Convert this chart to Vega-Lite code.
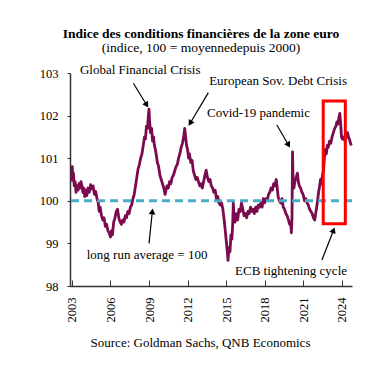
{
  "$schema": "https://vega.github.io/schema/vega-lite/v6.json",
  "width": 282,
  "height": 213,
  "autosize": {"type": "none"},
  "padding": {"left": 70, "top": 73, "right": 34, "bottom": 91},
  "background": "white",
  "config": {"view": {"stroke": null}, "font": "Liberation Serif"},
  "title": {
    "text": "Indice des conditions financières de la zone euro",
    "subtitle": "(indice, 100 = moyennedepuis 2000)",
    "font": "Liberation Serif",
    "fontSize": 13.5,
    "fontWeight": "bold",
    "subtitleFont": "Liberation Serif",
    "subtitleFontSize": 13.5,
    "color": "black",
    "subtitleColor": "black",
    "anchor": "middle",
    "dx": -10,
    "offset": 10,
    "subtitlePadding": 0
  },
  "datasets": {
    "fci": [
      {"year": 2003.00, "value": 100.45}, {"year": 2003.03, "value": 100.8}, {"year": 2003.07, "value": 100.5},
      {"year": 2003.12, "value": 100.65}, {"year": 2003.18, "value": 100.35}, {"year": 2003.25, "value": 100.45},
      {"year": 2003.32, "value": 100.2}, {"year": 2003.40, "value": 100.35}, {"year": 2003.48, "value": 100.25},
      {"year": 2003.55, "value": 100.4}, {"year": 2003.62, "value": 100.3}, {"year": 2003.70, "value": 100.45},
      {"year": 2003.78, "value": 100.35}, {"year": 2003.85, "value": 100.2}, {"year": 2003.92, "value": 100.3},
      {"year": 2004.00, "value": 100.1}, {"year": 2004.07, "value": 100.25}, {"year": 2004.15, "value": 100.12},
      {"year": 2004.25, "value": 100.3}, {"year": 2004.35, "value": 100.2}, {"year": 2004.45, "value": 100.38},
      {"year": 2004.55, "value": 100.28}, {"year": 2004.65, "value": 100.35}, {"year": 2004.75, "value": 100.15},
      {"year": 2004.85, "value": 100.22}, {"year": 2004.95, "value": 100.05}, {"year": 2005.05, "value": 99.95},
      {"year": 2005.12, "value": 99.75}, {"year": 2005.20, "value": 99.85}, {"year": 2005.30, "value": 99.65},
      {"year": 2005.40, "value": 99.55}, {"year": 2005.50, "value": 99.6}, {"year": 2005.60, "value": 99.4},
      {"year": 2005.70, "value": 99.45}, {"year": 2005.80, "value": 99.3}, {"year": 2005.90, "value": 99.25},
      {"year": 2006.00, "value": 99.15}, {"year": 2006.08, "value": 99.3}, {"year": 2006.15, "value": 99.2},
      {"year": 2006.25, "value": 99.5}, {"year": 2006.35, "value": 99.6}, {"year": 2006.45, "value": 99.75},
      {"year": 2006.55, "value": 99.8}, {"year": 2006.65, "value": 99.6}, {"year": 2006.75, "value": 99.5},
      {"year": 2006.85, "value": 99.45}, {"year": 2006.95, "value": 99.55}, {"year": 2007.05, "value": 99.5},
      {"year": 2007.15, "value": 99.65}, {"year": 2007.25, "value": 99.6}, {"year": 2007.35, "value": 99.75},
      {"year": 2007.45, "value": 99.7}, {"year": 2007.55, "value": 99.85}, {"year": 2007.65, "value": 99.9},
      {"year": 2007.75, "value": 100.05}, {"year": 2007.85, "value": 100.15}, {"year": 2007.95, "value": 100.35},
      {"year": 2008.05, "value": 100.55}, {"year": 2008.15, "value": 100.75}, {"year": 2008.25, "value": 100.85},
      {"year": 2008.35, "value": 101.0}, {"year": 2008.45, "value": 101.1}, {"year": 2008.55, "value": 101.3},
      {"year": 2008.65, "value": 101.5}, {"year": 2008.72, "value": 101.45}, {"year": 2008.80, "value": 101.75},
      {"year": 2008.88, "value": 101.7}, {"year": 2008.95, "value": 102.0}, {"year": 2009.00, "value": 102.15},
      {"year": 2009.05, "value": 101.85}, {"year": 2009.12, "value": 101.6}, {"year": 2009.20, "value": 101.7},
      {"year": 2009.28, "value": 101.4}, {"year": 2009.35, "value": 101.5}, {"year": 2009.42, "value": 101.3},
      {"year": 2009.50, "value": 101.2}, {"year": 2009.58, "value": 101.05}, {"year": 2009.65, "value": 100.9},
      {"year": 2009.75, "value": 100.8}, {"year": 2009.85, "value": 100.6}, {"year": 2009.95, "value": 100.5},
      {"year": 2010.05, "value": 100.4}, {"year": 2010.15, "value": 100.3}, {"year": 2010.25, "value": 100.15},
      {"year": 2010.32, "value": 100.25}, {"year": 2010.40, "value": 100.35}, {"year": 2010.50, "value": 100.3},
      {"year": 2010.60, "value": 100.45}, {"year": 2010.70, "value": 100.4}, {"year": 2010.80, "value": 100.55},
      {"year": 2010.90, "value": 100.6}, {"year": 2011.00, "value": 100.7}, {"year": 2011.10, "value": 100.8},
      {"year": 2011.20, "value": 100.85}, {"year": 2011.30, "value": 101.0}, {"year": 2011.40, "value": 101.1},
      {"year": 2011.50, "value": 101.25}, {"year": 2011.60, "value": 101.35}, {"year": 2011.70, "value": 101.5},
      {"year": 2011.78, "value": 101.7}, {"year": 2011.85, "value": 101.5}, {"year": 2011.92, "value": 101.3},
      {"year": 2012.00, "value": 101.2}, {"year": 2012.08, "value": 101.0}, {"year": 2012.15, "value": 101.1},
      {"year": 2012.25, "value": 100.9}, {"year": 2012.35, "value": 100.95}, {"year": 2012.45, "value": 100.7},
      {"year": 2012.55, "value": 100.6}, {"year": 2012.65, "value": 100.5}, {"year": 2012.75, "value": 100.55},
      {"year": 2012.85, "value": 100.45}, {"year": 2012.95, "value": 100.35}, {"year": 2013.05, "value": 100.4},
      {"year": 2013.15, "value": 100.3}, {"year": 2013.25, "value": 100.45}, {"year": 2013.35, "value": 100.6},
      {"year": 2013.45, "value": 100.72}, {"year": 2013.55, "value": 100.55}, {"year": 2013.65, "value": 100.45},
      {"year": 2013.75, "value": 100.5}, {"year": 2013.85, "value": 100.35}, {"year": 2013.95, "value": 100.3},
      {"year": 2014.05, "value": 100.2}, {"year": 2014.15, "value": 100.25}, {"year": 2014.25, "value": 100.05},
      {"year": 2014.35, "value": 100.1}, {"year": 2014.45, "value": 99.95}, {"year": 2014.55, "value": 99.9},
      {"year": 2014.65, "value": 99.95}, {"year": 2014.75, "value": 99.8}, {"year": 2014.85, "value": 99.55},
      {"year": 2014.92, "value": 99.35}, {"year": 2015.00, "value": 99.1}, {"year": 2015.08, "value": 98.85},
      {"year": 2015.15, "value": 98.6}, {"year": 2015.22, "value": 98.9}, {"year": 2015.30, "value": 98.8},
      {"year": 2015.38, "value": 99.2}, {"year": 2015.45, "value": 99.1}, {"year": 2015.52, "value": 99.5},
      {"year": 2015.56, "value": 99.95}, {"year": 2015.62, "value": 99.6}, {"year": 2015.70, "value": 99.5},
      {"year": 2015.80, "value": 99.7}, {"year": 2015.90, "value": 99.55}, {"year": 2016.00, "value": 99.8},
      {"year": 2016.10, "value": 99.75}, {"year": 2016.20, "value": 99.95}, {"year": 2016.30, "value": 99.8},
      {"year": 2016.40, "value": 99.65}, {"year": 2016.50, "value": 99.7}, {"year": 2016.60, "value": 99.6},
      {"year": 2016.70, "value": 99.75}, {"year": 2016.80, "value": 99.7}, {"year": 2016.90, "value": 99.85},
      {"year": 2017.00, "value": 99.75}, {"year": 2017.10, "value": 99.8}, {"year": 2017.20, "value": 99.7},
      {"year": 2017.30, "value": 99.85}, {"year": 2017.40, "value": 99.75}, {"year": 2017.50, "value": 99.9},
      {"year": 2017.60, "value": 99.85}, {"year": 2017.70, "value": 99.95}, {"year": 2017.80, "value": 99.85},
      {"year": 2017.90, "value": 100.05}, {"year": 2018.00, "value": 99.95}, {"year": 2018.10, "value": 100.05},
      {"year": 2018.20, "value": 100.0}, {"year": 2018.30, "value": 100.15}, {"year": 2018.40, "value": 100.2},
      {"year": 2018.50, "value": 100.3}, {"year": 2018.60, "value": 100.25}, {"year": 2018.70, "value": 100.4},
      {"year": 2018.80, "value": 100.35}, {"year": 2018.90, "value": 100.5}, {"year": 2018.98, "value": 100.3},
      {"year": 2019.05, "value": 100.1}, {"year": 2019.15, "value": 100.0}, {"year": 2019.25, "value": 99.95},
      {"year": 2019.35, "value": 100.05}, {"year": 2019.45, "value": 99.85}, {"year": 2019.55, "value": 99.8},
      {"year": 2019.65, "value": 99.7}, {"year": 2019.75, "value": 99.65}, {"year": 2019.85, "value": 99.55},
      {"year": 2019.95, "value": 99.45}, {"year": 2020.02, "value": 99.5}, {"year": 2020.08, "value": 99.25},
      {"year": 2020.13, "value": 99.6}, {"year": 2020.17, "value": 101.15}, {"year": 2020.21, "value": 100.5},
      {"year": 2020.28, "value": 100.3}, {"year": 2020.35, "value": 100.45}, {"year": 2020.45, "value": 100.55},
      {"year": 2020.55, "value": 100.65}, {"year": 2020.62, "value": 100.45}, {"year": 2020.70, "value": 100.35},
      {"year": 2020.80, "value": 100.3}, {"year": 2020.90, "value": 100.2}, {"year": 2021.00, "value": 100.15},
      {"year": 2021.10, "value": 100.0}, {"year": 2021.20, "value": 100.05}, {"year": 2021.30, "value": 99.95},
      {"year": 2021.40, "value": 99.9}, {"year": 2021.50, "value": 99.8}, {"year": 2021.60, "value": 99.75},
      {"year": 2021.70, "value": 99.7}, {"year": 2021.80, "value": 99.6}, {"year": 2021.90, "value": 99.55},
      {"year": 2021.97, "value": 99.7}, {"year": 2022.05, "value": 99.85}, {"year": 2022.12, "value": 100.0},
      {"year": 2022.20, "value": 100.2}, {"year": 2022.28, "value": 100.35}, {"year": 2022.35, "value": 100.5},
      {"year": 2022.42, "value": 100.4}, {"year": 2022.50, "value": 100.6}, {"year": 2022.58, "value": 100.7},
      {"year": 2022.65, "value": 101.0}, {"year": 2022.72, "value": 101.2}, {"year": 2022.80, "value": 101.1},
      {"year": 2022.88, "value": 101.3}, {"year": 2022.95, "value": 101.25}, {"year": 2023.05, "value": 101.4},
      {"year": 2023.15, "value": 101.35}, {"year": 2023.25, "value": 101.5}, {"year": 2023.35, "value": 101.6},
      {"year": 2023.45, "value": 101.7}, {"year": 2023.55, "value": 101.75}, {"year": 2023.62, "value": 101.85},
      {"year": 2023.70, "value": 101.8}, {"year": 2023.78, "value": 101.95}, {"year": 2023.85, "value": 102.05},
      {"year": 2023.92, "value": 101.8}, {"year": 2023.98, "value": 101.5}, {"year": 2024.05, "value": 101.45},
      {"year": 2024.15, "value": 101.5}, {"year": 2024.25, "value": 101.4}, {"year": 2024.35, "value": 101.5},
      {"year": 2024.45, "value": 101.6}, {"year": 2024.52, "value": 101.5}, {"year": 2024.60, "value": 101.45},
      {"year": 2024.68, "value": 101.35}, {"year": 2024.75, "value": 101.3}
    ],
    "notes": [
      {"label": "Global Financial Crisis", "x": 2003.62, "y": 103.07},
      {"label": "European Sov. Debt Crisis", "x": 2013.68, "y": 102.81},
      {"label": "Covid-19 pandemic", "x": 2013.52, "y": 102.07},
      {"label": "long run average  = 100", "x": 2004.15, "y": 98.73},
      {"label": "ECB tightening cycle", "x": 2015.7, "y": 98.35}
    ],
    "arrows": [
      {"id": "gfc", "x": 2007.78, "y": 102.76, "x2": 2008.82, "y2": 102.25},
      {"id": "esdc", "x": 2013.62, "y": 102.54, "x2": 2012.2, "y2": 101.82},
      {"id": "covid", "x": 2018.95, "y": 101.78, "x2": 2019.86, "y2": 101.31},
      {"id": "lra", "x": 2009.0, "y": 99.0, "x2": 2009.26, "y2": 99.75},
      {"id": "ecb", "x": 2022.46, "y": 98.61, "x2": 2023.36, "y2": 99.31}
    ],
    "box": [
      {"x": 2022.56, "x2": 2024.28, "y": 102.34, "y2": 99.46}
    ],
    "avg": [
      {"level": 100}
    ]
  },
  "encoding": {
    "x": {
      "type": "quantitative",
      "scale": {"domain": [2002.85, 2024.8], "nice": false, "zero": false}
    },
    "y": {
      "type": "quantitative",
      "scale": {"domain": [98, 103], "nice": false, "zero": false}
    }
  },
  "layer": [
    {
      "data": {"name": "fci"},
      "mark": {"type": "line", "color": "#7B0A4E", "strokeWidth": 2.8, "strokeJoin": "round"},
      "encoding": {
        "x": {
          "field": "year",
          "type": "quantitative",
          "scale": {"domain": [2002.85, 2024.8], "nice": false, "zero": false},
          "axis": {
            "values": [2003, 2006, 2009, 2012, 2015, 2018, 2021, 2024],
            "format": "d",
            "grid": false,
            "labelAngle": -90,
            "labelAlign": "right",
            "labelBaseline": "middle",
            "labelFont": "Liberation Serif",
            "labelFontSize": 12.5,
            "labelColor": "black",
            "tickSize": -6,
            "labelPadding": 17,
            "tickColor": "#333",
            "domainColor": "#333",
            "domainWidth": 1.5,
            "tickWidth": 1,
            "title": "Source: Goldman Sachs, QNB Economics",
            "titleFont": "Liberation Serif",
            "titleFontSize": 13,
            "titleFontWeight": "normal",
            "titleColor": "black",
            "titleX": 130,
            "titleY": 60,
            "titleBaseline": "alphabetic",
            "titleAlign": "center"
          }
        },
        "y": {
          "field": "value",
          "type": "quantitative",
          "scale": {"domain": [98, 103], "nice": false, "zero": false},
          "axis": {
            "values": [98, 99, 100, 101, 102, 103],
            "grid": false,
            "title": null,
            "labelFont": "Liberation Serif",
            "labelFontSize": 12.5,
            "labelColor": "black",
            "tickSize": 3,
            "labelPadding": 9,
            "tickColor": "#333",
            "domainColor": "#333",
            "domainWidth": 1.5
          }
        }
      }
    },
    {
      "data": {"name": "avg"},
      "mark": {"type": "rule", "color": "#4BACC6", "strokeWidth": 3, "strokeDash": [8, 5]},
      "encoding": {"y": {"field": "level", "type": "quantitative"}}
    },
    {
      "data": {"name": "box"},
      "mark": {"type": "rect", "filled": false, "stroke": "#FF0000", "strokeWidth": 3},
      "encoding": {
        "x": {"field": "x", "type": "quantitative"},
        "x2": {"field": "x2"},
        "y": {"field": "y", "type": "quantitative"},
        "y2": {"field": "y2"}
      }
    },
    {
      "data": {"name": "notes"},
      "mark": {"type": "text", "align": "left", "baseline": "middle", "font": "Liberation Serif", "fontSize": 13, "color": "black"},
      "encoding": {
        "x": {"field": "x", "type": "quantitative"},
        "y": {"field": "y", "type": "quantitative"},
        "text": {"field": "label"}
      }
    },
    {
      "data": {"name": "arrows"},
      "mark": {"type": "rule", "color": "black", "strokeWidth": 1.2},
      "encoding": {
        "x": {"field": "x", "type": "quantitative"},
        "y": {"field": "y", "type": "quantitative"},
        "x2": {"field": "x2"},
        "y2": {"field": "y2"}
      }
    },
    {
      "data": {"name": "arrows"},
      "transform": [{"filter": "datum.id == 'gfc'"}],
      "mark": {"type": "point", "shape": "triangle-up", "filled": true, "color": "black", "size": 45, "angle": 148, "opacity": 1},
      "encoding": {"x": {"field": "x2", "type": "quantitative"}, "y": {"field": "y2", "type": "quantitative"}}
    },
    {
      "data": {"name": "arrows"},
      "transform": [{"filter": "datum.id == 'esdc'"}],
      "mark": {"type": "point", "shape": "triangle-up", "filled": true, "color": "black", "size": 45, "angle": 211, "opacity": 1},
      "encoding": {"x": {"field": "x2", "type": "quantitative"}, "y": {"field": "y2", "type": "quantitative"}}
    },
    {
      "data": {"name": "arrows"},
      "transform": [{"filter": "datum.id == 'covid'"}],
      "mark": {"type": "point", "shape": "triangle-up", "filled": true, "color": "black", "size": 45, "angle": 150, "opacity": 1},
      "encoding": {"x": {"field": "x2", "type": "quantitative"}, "y": {"field": "y2", "type": "quantitative"}}
    },
    {
      "data": {"name": "arrows"},
      "transform": [{"filter": "datum.id == 'lra'"}],
      "mark": {"type": "point", "shape": "triangle-up", "filled": true, "color": "black", "size": 45, "angle": 6, "opacity": 1},
      "encoding": {"x": {"field": "x2", "type": "quantitative"}, "y": {"field": "y2", "type": "quantitative"}}
    },
    {
      "data": {"name": "arrows"},
      "transform": [{"filter": "datum.id == 'ecb'"}],
      "mark": {"type": "point", "shape": "triangle-up", "filled": true, "color": "black", "size": 45, "angle": 21, "opacity": 1},
      "encoding": {"x": {"field": "x2", "type": "quantitative"}, "y": {"field": "y2", "type": "quantitative"}}
    }
  ]
}
